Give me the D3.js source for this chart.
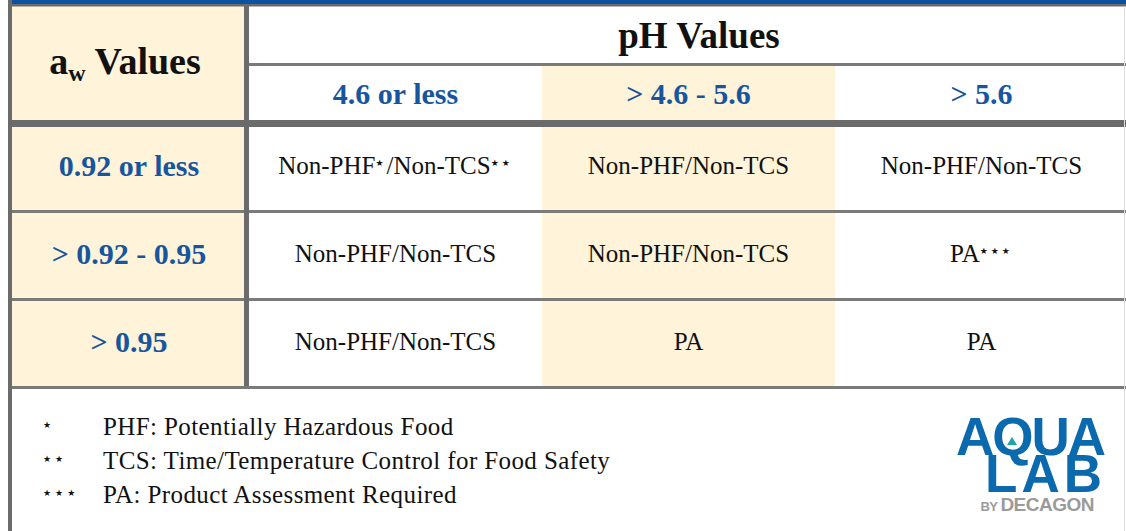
<!DOCTYPE html>
<html>
<head>
<meta charset="utf-8">
<script src="https://cdn.jsdelivr.net/npm/d3@7"></script>
<style>
  body { margin: 0; background: #fff; }
  svg { display: block; }
</style>
</head>
<body>
<div id="svg-container"></div>
<script>
const width = 1126
const height = 531

// DATA
const awLabels = ["0.92 or less", "> 0.92 - 0.95", "> 0.95"]
const phLabels = ["4.6 or less", "> 4.6 - 5.6", "> 5.6"]
const cellsLow = ["Non-PHF*/Non-TCS**", "Non-PHF/Non-TCS", "Non-PHF/Non-TCS"]
const cellsMid = ["Non-PHF/Non-TCS", "Non-PHF/Non-TCS", "PA***"]
const cellsHigh = ["Non-PHF/Non-TCS", "PA", "PA"]
const footMarks = ["*", "**", "***"]
const footTexts = [
  "PHF: Potentially Hazardous Food",
  "TCS: Time/Temperature Control for Food Safety",
  "PA: Product Assessment Required",
]
const highlightCol = "> 4.6 - 5.6"

const cellRows = [cellsLow, cellsMid, cellsHigh]

// COLORS
const blueText = "#17569e"
const beige = "#fff4da"
const lineDark = "#6b6b6b"
const lineMid = "#7a7a7a"
const serif = "'Liberation Serif', 'Times New Roman', serif"

const svg = d3
  .select("#svg-container")
  .append("svg")
  .attr("width", width)
  .attr("height", height)
  .attr("viewBox", [0, 0, width, height])

// SCALES
const labelLeft = 12
const labelRight = 244
const xCol = d3.scaleBand().domain(phLabels).range([249, 1128])
const yRow = d3.scaleBand().domain(awLabels).range([125, 389])
const headTop = 6
const phLineY = 63
const subBottom = 120
const labelMid = (labelLeft + labelRight) / 2

// BACKGROUNDS
svg.append("rect")
  .attr("x", labelLeft).attr("y", headTop)
  .attr("width", labelRight - labelLeft)
  .attr("height", yRow.range()[1] - headTop)
  .attr("fill", beige)

svg.append("rect")
  .attr("x", xCol(highlightCol)).attr("y", phLineY)
  .attr("width", xCol.bandwidth())
  .attr("height", yRow.range()[1] - phLineY)
  .attr("fill", beige)

// TOP BAR
svg.append("rect").attr("x", labelLeft).attr("y", 0)
  .attr("width", width).attr("height", 4).attr("fill", "#0b52a0")
svg.append("rect").attr("x", labelLeft).attr("y", 4)
  .attr("width", width).attr("height", 2.5).attr("fill", lineDark)

// GRID LINES
svg.append("rect")
  .attr("x", xCol.range()[0]).attr("y", phLineY)
  .attr("width", width - xCol.range()[0]).attr("height", 3)
  .attr("fill", lineMid)

svg.append("rect")
  .attr("x", labelLeft).attr("y", subBottom)
  .attr("width", width).attr("height", 7)
  .attr("fill", lineDark)

svg.selectAll(".row-line")
  .data(awLabels)
  .join("rect")
  .attr("class", "row-line")
  .attr("x", labelLeft)
  .attr("y", (d) => yRow(d) + yRow.bandwidth() - 3)
  .attr("width", width)
  .attr("height", 3)
  .attr("fill", lineMid)

svg.append("rect")
  .attr("x", labelRight).attr("y", headTop)
  .attr("width", 5).attr("height", yRow.range()[1] - headTop - 3)
  .attr("fill", lineDark)

svg.append("rect")
  .attr("x", 8).attr("y", 0)
  .attr("width", 4).attr("height", height)
  .attr("fill", lineDark)

svg.append("rect")
  .attr("x", width - 2).attr("y", 6)
  .attr("width", 1).attr("height", height)
  .attr("fill", "#dcdcdc")

// HEADERS
const awTitle = svg.append("text")
  .attr("x", labelMid - 3)
  .attr("y", 74)
  .attr("text-anchor", "middle")
  .style("font-family", serif)
  .style("font-weight", "bold")
  .style("font-size", "38px")
  .attr("fill", "#111")
awTitle.append("tspan").text("a")
awTitle.append("tspan").text("w")
  .style("font-size", "24px")
  .attr("baseline-shift", "-7px")
awTitle.append("tspan").text(" Values")

svg.append("text")
  .attr("x", 699)
  .attr("y", 48)
  .attr("text-anchor", "middle")
  .style("font-family", serif)
  .style("font-weight", "bold")
  .style("font-size", "37px")
  .attr("fill", "#111")
  .text("pH Values")

svg.selectAll(".ph-label")
  .data(phLabels)
  .join("text")
  .attr("class", "ph-label")
  .attr("x", (d) => xCol(d) + xCol.bandwidth() / 2)
  .attr("y", 104)
  .attr("text-anchor", "middle")
  .style("font-family", serif)
  .style("font-weight", "bold")
  .style("font-size", "30px")
  .attr("fill", blueText)
  .text((d) => d)

svg.selectAll(".aw-label")
  .data(awLabels)
  .join("text")
  .attr("class", "aw-label")
  .attr("x", labelMid + 1)
  .attr("y", (d) => yRow(d) + yRow.bandwidth() / 2 + 7)
  .attr("text-anchor", "middle")
  .style("font-family", serif)
  .style("font-weight", "bold")
  .style("font-size", "30px")
  .attr("fill", blueText)
  .text((d) => d)

// CELLS
const addStarred = function (sel, str, starSize, shift) {
  str.split(/(\*+)/).filter((s) => s !== "").forEach((part) => {
    if (part[0] === "*") {
      sel.append("tspan")
        .text("★".repeat(part.length))
        .style("font-family", "'DejaVu Sans', sans-serif")
        .style("font-size", starSize + "px")
        .style("letter-spacing", "3px")
        .attr("baseline-shift", shift + "px")
    } else {
      sel.append("tspan").text(part)
    }
  })
}

awLabels.forEach((aw, r) => {
  cellRows[r].forEach((val, c) => {
    const t = svg.append("text")
      .attr("x", xCol(phLabels[c]) + xCol.bandwidth() / 2)
      .attr("y", yRow(aw) + yRow.bandwidth() / 2 + 5)
      .attr("text-anchor", "middle")
      .style("font-family", serif)
      .style("font-size", "25px")
      .attr("fill", "#111")
    addStarred(t, val, 9, 8)
  })
})

// FOOTNOTES
svg.selectAll(".foot-mark")
  .data(footMarks)
  .join("text")
  .attr("class", "foot-mark")
  .attr("x", 43)
  .attr("y", (d, i) => 428 + i * 34)
  .style("font-family", "'DejaVu Sans', sans-serif")
  .style("font-size", "9px")
  .style("letter-spacing", "4px")
  .attr("fill", "#111")
  .text((d) => "★".repeat(d.length))

svg.selectAll(".foot-text")
  .data(footTexts)
  .join("text")
  .attr("class", "foot-text")
  .attr("x", 103)
  .attr("y", (d, i) => 435 + i * 34)
  .style("font-family", serif)
  .style("font-size", "25px")
  .style("letter-spacing", "0.4px")
  .attr("fill", "#111")
  .text((d) => d)

// LOGO
const logoBlue = "#0b6aae"
const logo = svg.append("text")
  .attr("class", "logo")
  .attr("text-anchor", "end")
  .style("font-family", "'Liberation Sans', Arial, sans-serif")
  .style("font-weight", "bold")

logo.append("tspan")
  .attr("x", 1104).attr("y", 455)
  .style("font-size", "53px")
  .style("letter-spacing", "-2px")
  .attr("fill", logoBlue)
  .text("AQUA")

logo.append("tspan")
  .attr("x", 1106).attr("y", 492)
  .style("font-size", "53px")
  .style("letter-spacing", "4px")
  .attr("fill", logoBlue)
  .text("LAB")

logo.append("tspan")
  .attr("x", 1094).attr("y", 511)
  .style("font-size", "13px")
  .style("letter-spacing", "-0.5px")
  .attr("fill", "#9a9a9a")
  .text("BY ")

logo.append("tspan")
  .style("font-size", "19px")
  .style("letter-spacing", "-0.5px")
  .attr("fill", "#9a9a9a")
  .text("DECAGON")

svg.append("path")
  .attr("d", "M1012,437 L1017,445 L1007,445 Z")
  .attr("fill", "#1fa3a8")
</script>
</body>
</html>
